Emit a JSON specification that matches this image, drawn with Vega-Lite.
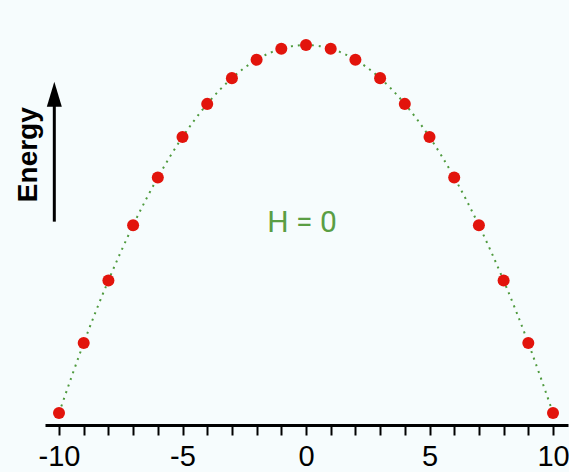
{
  "$schema": "https://vega.github.io/schema/vega-lite/v6.json",
  "width": 523,
  "height": 425,
  "autosize": {"type": "none"},
  "padding": {"left": 45, "top": 0, "right": 1, "bottom": 47},
  "background": "#f6fcfd",
  "config": {"view": {"stroke": null}},
  "datasets": {
    "levels": [
      {"k": -10, "E": -100}, {"k": -9, "E": -81}, {"k": -8, "E": -64}, {"k": -7, "E": -49},
      {"k": -6, "E": -36}, {"k": -5, "E": -25}, {"k": -4, "E": -16}, {"k": -3, "E": -9},
      {"k": -2, "E": -4}, {"k": -1, "E": -1}, {"k": 0, "E": 0}, {"k": 1, "E": -1},
      {"k": 2, "E": -4}, {"k": 3, "E": -9}, {"k": 4, "E": -16}, {"k": 5, "E": -25},
      {"k": 6, "E": -36}, {"k": 7, "E": -49}, {"k": 8, "E": -64}, {"k": 9, "E": -81},
      {"k": 10, "E": -100}
    ],
    "arrow": [{"k": -10.19, "E": -48.0, "E2": -15.5}],
    "arrowhead": [{"k": -10.19, "E": -13.37}],
    "energyLabel": [{"k": -11.2, "E": -29.8, "label": "Energy"}],
    "hLabel": [{"k": -0.16, "E": -50.7, "label": "H = 0"}]
  },
  "encoding": {
    "x": {
      "field": "k",
      "type": "quantitative",
      "scale": {"domain": [-10.567, 10.607], "nice": false, "zero": false},
      "axis": {
        "title": null,
        "grid": false,
        "values": [-10, -9, -8, -7, -6, -5, -4, -3, -2, -1, 0, 1, 2, 3, 4, 5, 6, 7, 8, 9, 10],
        "labelExpr": "datum.value % 5 === 0 ? toString(datum.value) : ''",
        "labelOverlap": false,
        "labelFlush": false,
        "domainColor": "#000000",
        "domainWidth": 3,
        "tickColor": "#000000",
        "tickWidth": 2,
        "tickSize": 10,
        "labelFont": "Liberation Sans",
        "labelFontSize": 29,
        "labelColor": "#000000",
        "labelPadding": 7
      }
    },
    "y": {
      "field": "E",
      "type": "quantitative",
      "scale": {"domain": [-103.26, 12.23], "nice": false, "zero": false},
      "axis": null
    }
  },
  "layer": [
    {
      "data": {"name": "levels"},
      "mark": {"type": "line", "interpolate": "natural", "color": "#4f9a3e", "strokeWidth": 2, "strokeDash": [2, 5]}
    },
    {
      "data": {"name": "levels"},
      "mark": {"type": "point", "shape": "circle", "filled": true, "color": "#e2140c", "opacity": 1, "size": 145}
    },
    {
      "data": {"name": "arrow"},
      "mark": {"type": "rule", "color": "#000000", "strokeWidth": 3},
      "encoding": {"y2": {"field": "E2"}}
    },
    {
      "data": {"name": "arrowhead"},
      "mark": {"type": "point", "shape": "M0,-1L0.6,1L-0.6,1Z", "filled": true, "color": "#000000", "opacity": 1, "size": 625}
    },
    {
      "data": {"name": "energyLabel"},
      "mark": {"type": "text", "angle": 270, "align": "center", "baseline": "middle", "font": "Liberation Sans", "fontWeight": "bold", "fontSize": 28, "color": "#000000"},
      "encoding": {"text": {"field": "label"}}
    },
    {
      "data": {"name": "hLabel"},
      "mark": {"type": "text", "align": "center", "baseline": "alphabetic", "font": "Roboto", "fontSize": 30, "color": "#5a9e44"},
      "encoding": {"text": {"field": "label"}}
    }
  ]
}
